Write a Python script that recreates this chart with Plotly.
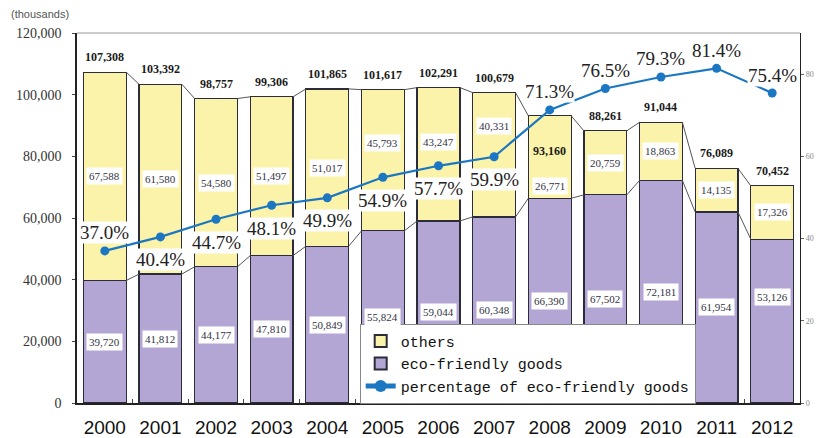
import plotly.graph_objects as go

# ---------------- data ----------------
years = ["2000", "2001", "2002", "2003", "2004", "2005", "2006",
         "2007", "2008", "2009", "2010", "2011", "2012"]
eco = [39720, 41812, 44177, 47810, 50849, 55824, 59044,
       60348, 66390, 67502, 72181, 61954, 53126]
others = [67588, 61580, 54580, 51497, 51017, 45793, 43247,
          40331, 26771, 20759, 18863, 14135, 17326]
totals = [107308, 103392, 98757, 99306, 101865, 101617, 102291,
          100679, 93160, 88261, 91044, 76089, 70452]
pct = [37.0, 40.4, 44.7, 48.1, 49.9, 54.9, 57.7,
       59.9, 71.3, 76.5, 79.3, 81.4, 75.4]

# ---------------- styling ----------------
YELLOW = "#FBF3A9"
PURPLE = "#B4A6D4"
OUTLINE = "#2B2B3A"
BLUE = "#1B77C2"
SERIF = "Liberation Serif"
SANS = "Liberation Sans"
MONO = "Liberation Mono"
BAR_W = 0.77

# label placement tweaks (pixels)
pct_above = [True, False, False, False, False, False, False, False,
             True, True, True, True, True]
others_shift = {5: 17, 6: 12, 7: 29, 8: -29}
eco_shift = {12: 24}
total_shift = {8: -35}

x = list(range(len(years)))

fig = go.Figure()

# series connector lines (tops of segments between adjacent bars)
def connectors(vals):
    xs, ys = [], []
    for i in range(len(vals) - 1):
        xs += [x[i] + BAR_W / 2, x[i + 1] - BAR_W / 2, None]
        ys += [vals[i], vals[i + 1], None]
    return xs, ys

for vals in (eco, totals):
    cx, cy = connectors(vals)
    fig.add_trace(go.Scatter(x=cx, y=cy, mode="lines",
                             line=dict(color="#555555", width=1),
                             showlegend=False, hoverinfo="skip"))

fig.add_trace(go.Bar(x=x, y=eco, name="eco-friendly goods", width=BAR_W,
                     marker=dict(color=PURPLE, line=dict(color=OUTLINE, width=1.2)),
                     legendrank=2))
fig.add_trace(go.Bar(x=x, y=others, name="others", width=BAR_W,
                     marker=dict(color=YELLOW, line=dict(color=OUTLINE, width=1.2)),
                     legendrank=1))
fig.add_trace(go.Scatter(x=x, y=pct, yaxis="y2", mode="lines+markers",
                         name="percentage of eco-friendly goods",
                         line=dict(color=BLUE, width=2.2),
                         marker=dict(color=BLUE, size=9),
                         legendrank=3))

annotations = []
for i in x:
    annotations.append(dict(x=i, y=eco[i] / 2, xref="x", yref="y",
                            text=f"{eco[i]:,}", showarrow=False,
                            yshift=eco_shift.get(i, 0),
                            bgcolor="white", borderpad=2,
                            font=dict(family=SERIF, size=11, color="#333344")))
    annotations.append(dict(x=i, y=eco[i] + others[i] / 2, xref="x", yref="y",
                            text=f"{others[i]:,}", showarrow=False,
                            yshift=others_shift.get(i, 0),
                            bgcolor="white", borderpad=2,
                            font=dict(family=SERIF, size=11, color="#333344")))
    annotations.append(dict(x=i, y=totals[i], xref="x", yref="y",
                            text=f"<b>{totals[i]:,}</b>", showarrow=False,
                            yshift=total_shift.get(i, 15),
                            font=dict(family=SERIF, size=12, color="#1a1a1a")))
    annotations.append(dict(x=i, y=pct[i], xref="x", yref="y2",
                            text=f"{pct[i]:.1f}%", showarrow=False,
                            yshift=18 if pct_above[i] else -23,
                            bgcolor="white", borderpad=0,
                            font=dict(family=SERIF, size=19, color="#222222")))

annotations.append(dict(x=0, y=1, xref="paper", yref="paper",
                        xanchor="left", yanchor="bottom", xshift=-68, yshift=11,
                        text="(thousands)", showarrow=False,
                        font=dict(family=SANS, size=11, color="#555555")))

fig.update_layout(
    width=824, height=438,
    margin=dict(l=77, r=24, t=33, b=35, autoexpand=False),
    paper_bgcolor="white", plot_bgcolor="white",
    barmode="stack",
    showlegend=True,
    legend=dict(x=0.391, y=0.214, xanchor="left", yanchor="top",
                traceorder="normal",
                bgcolor="white", bordercolor="#888888", borderwidth=1,
                font=dict(family=MONO, size=15, color="#111111"),
                tracegroupgap=0, itemsizing="constant"),
    xaxis=dict(range=[-0.5, len(years) - 0.5], tickmode="array",
               tickvals=x, ticktext=years, showgrid=False, zeroline=False,
               showline=True, linecolor="#222222", linewidth=1.5,
               ticks="", ticklabelstandoff=6, automargin=False,
               minor=dict(tickvals=[i + 0.5 for i in x[:-1]], ticks="inside",
                          ticklen=4, tickcolor="#444444", showgrid=False),
               tickfont=dict(family=SANS, size=19, color="#111111"),
               fixedrange=True),
    yaxis=dict(range=[0, 120000], tickvals=[0, 20000, 40000, 60000, 80000, 100000, 120000],
               tickformat=",", showgrid=False, zeroline=False,
               showline=True, linecolor="#222222", linewidth=1.5,
               ticks="outside", ticklen=3, tickcolor="#444444",
               ticklabelstandoff=8, automargin=False,
               tickfont=dict(family=SERIF, size=14, color="#333333"),
               fixedrange=True),
    yaxis2=dict(range=[0, 90], overlaying="y", side="right",
                tickvals=[0, 20, 40, 60, 80], ticksuffix="%",
                showgrid=False, zeroline=False, showline=True,
                linecolor="#222222", linewidth=1.2, automargin=False,
                ticks="outside", ticklen=3, tickcolor="#666666",
                tickfont=dict(family=SERIF, size=8, color="#888888"),
                fixedrange=True),
    annotations=annotations,
    shapes=[dict(type="line", xref="paper", yref="paper", x0=0, x1=1, y0=1, y1=1,
                 line=dict(color="#999999", width=1))],
)

fig.write_html("out.html",
               config={"displayModeBar": False},
               post_script="document.body.style.margin='0';document.body.style.overflow='hidden';")
